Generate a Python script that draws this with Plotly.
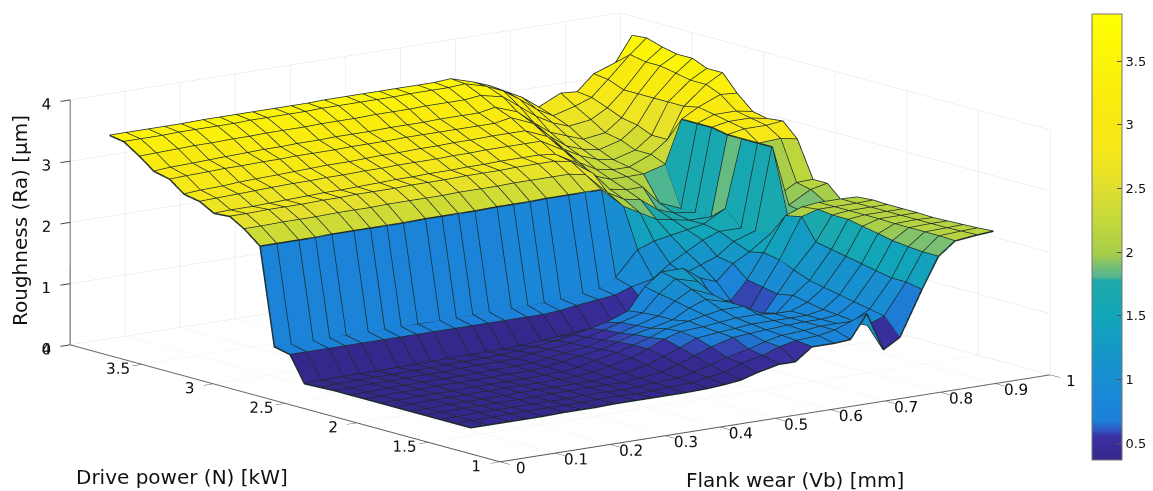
import plotly.graph_objects as go

flank_wear = [0.03,0.06,0.10,0.13,0.16,0.20,0.23,0.26,0.29,0.33,0.36,0.39,0.42,0.46,0.49,0.52,0.55,0.59,0.62,0.65,0.69,0.72,0.75,0.78,0.81,0.85,0.88,0.91,0.95,0.98]
drive_power = [1.32,1.43,1.53,1.64,1.74,1.85,1.95,2.06,2.16,2.27,2.37,2.48,2.58,2.69,2.79,2.90,3.00,3.11,3.21,3.32,3.42,3.53,3.63,3.74,3.84]

roughness = [
[.31,.31,.31,.31,.31,.32,.32,.32,.33,.33,.33,.33,.33,.34,.36,.39,.47,.55,.55,.75,.75,.77,1.15,.52,.68,1.40,1.90,2.11,2.15,2.17],
[.31,.31,.31,.32,.32,.32,.32,.32,.33,.33,.32,.33,.34,.36,.40,.45,.55,.62,.72,.78,.80,.85,.95,.85,.95,1.45,1.90,2.12,2.14,2.15],
[.31,.31,.32,.32,.32,.32,.32,.32,.33,.33,.32,.33,.35,.37,.42,.50,.58,.66,.74,.80,.82,.85,.85,.85,1.00,1.45,1.92,2.12,2.13,2.14],
[.31,.31,.32,.32,.32,.32,.32,.33,.33,.33,.33,.33,.36,.40,.48,.58,.68,.78,.80,.82,.84,.85,.85,.88,1.05,1.50,1.95,2.12,2.13,2.13],
[.31,.31,.32,.32,.32,.32,.33,.33,.33,.33,.33,.35,.38,.45,.55,.65,.76,.80,.82,.85,.85,.85,.85,.90,1.10,1.55,2.00,2.12,2.13,2.12],
[.31,.31,.32,.32,.32,.33,.33,.33,.33,.33,.34,.36,.42,.50,.60,.72,.80,.82,.85,.88,.88,.85,.85,.95,1.15,1.60,2.05,2.13,2.13,2.13],
[.31,.31,.32,.32,.32,.33,.33,.33,.33,.34,.35,.38,.45,.52,.60,.68,.78,.85,.90,.95,.95,.80,.75,1.00,1.20,1.65,2.10,2.13,2.13,2.13],
[.31,.31,.32,.32,.33,.33,.33,.33,.34,.34,.36,.40,.45,.50,.58,.66,.72,.80,.95,1.05,.95,.62,.60,.95,1.30,1.70,2.10,2.13,2.13,2.13],
[.31,.31,.32,.32,.33,.33,.33,.34,.34,.35,.36,.40,.44,.48,.55,.62,.70,.80,1.00,1.15,1.00,.60,.58,1.00,1.40,2.05,2.13,2.13,2.13,2.14],
[.31,.31,.32,.32,.33,.33,.33,.34,.35,.35,.36,.40,.43,.47,.52,.60,.68,.78,1.05,1.25,1.15,.80,.75,1.05,1.45,2.00,2.10,2.13,2.13,2.12],
[.30,.31,.31,.32,.32,.33,.33,.34,.35,.35,.36,.38,.41,.45,.50,.56,.62,.75,1.10,1.30,1.30,1.10,1.00,1.25,1.40,1.65,1.85,1.90,2.00,1.97],
[.29,.30,.30,.31,.31,.31,.32,.32,.33,.33,.34,.34,.35,.38,.40,.43,.45,.50,.55,.70,.95,1.10,1.20,1.30,1.50,1.62,2.95,1.95,2.15,2.21],
[.70,.70,.70,.70,.70,.70,.70,.70,.70,.70,.70,.70,.70,.70,.70,.72,.76,.80,.83,.92,1.00,1.20,1.35,1.50,1.60,1.60,2.95,2.00,2.20,2.21],
[.76,.76,.76,.76,.76,.76,.76,.76,.76,.76,.76,.77,.77,.78,.78,.78,.80,.83,.87,1.00,1.40,1.50,1.55,1.60,1.65,1.85,2.95,2.83,2.85,2.80],
[2.34,2.34,2.34,2.34,2.35,2.35,2.35,2.35,2.35,2.36,2.36,2.36,2.36,2.37,2.37,2.37,2.38,2.38,2.38,2.38,2.05,1.90,1.75,1.70,1.65,1.65,2.95,3.00,3.00,3.03],
[2.55,2.55,2.56,2.56,2.56,2.57,2.57,2.57,2.58,2.58,2.58,2.58,2.59,2.59,2.59,2.60,2.60,2.60,2.60,2.55,2.20,2.05,2.00,1.80,1.70,1.65,3.00,3.05,3.05,3.00],
[2.69,2.69,2.70,2.70,2.70,2.71,2.71,2.72,2.72,2.72,2.73,2.73,2.73,2.74,2.74,2.74,2.75,2.75,2.75,2.70,2.45,2.15,2.10,2.10,1.80,1.65,3.00,3.10,3.10,3.05],
[2.67,2.68,2.68,2.69,2.70,2.71,2.72,2.72,2.73,2.74,2.75,2.75,2.76,2.76,2.77,2.77,2.78,2.78,2.78,2.75,2.55,2.30,2.20,2.20,2.20,2.30,3.00,3.15,3.30,3.28],
[2.80,2.81,2.82,2.83,2.84,2.85,2.85,2.86,2.86,2.87,2.87,2.88,2.88,2.88,2.89,2.89,2.90,2.90,2.90,2.90,2.70,2.45,2.30,2.25,2.25,2.40,2.60,3.10,3.40,3.55],
[2.85,2.87,2.88,2.90,2.91,2.92,2.93,2.94,2.95,2.95,2.96,2.97,2.97,2.98,2.98,2.99,2.99,3.00,3.00,3.00,2.85,2.60,2.45,2.35,2.30,2.40,2.60,3.10,3.40,3.55],
[3.03,3.04,3.05,3.06,3.06,3.07,3.07,3.08,3.08,3.08,3.09,3.09,3.09,3.10,3.10,3.10,3.10,3.10,3.10,3.15,3.00,2.75,2.55,2.45,2.40,2.50,2.70,3.10,3.45,3.65],
[3.09,3.11,3.12,3.13,3.14,3.15,3.16,3.16,3.17,3.17,3.18,3.18,3.18,3.19,3.19,3.19,3.20,3.20,3.20,3.25,3.12,2.90,2.70,2.60,2.50,2.55,2.75,3.10,3.50,3.65],
[3.27,3.28,3.29,3.30,3.30,3.31,3.31,3.32,3.32,3.32,3.33,3.33,3.33,3.34,3.34,3.34,3.35,3.35,3.35,3.38,3.30,3.10,2.90,2.75,2.65,2.70,2.85,3.10,3.50,3.70],
[3.44,3.44,3.44,3.45,3.45,3.45,3.45,3.46,3.46,3.46,3.46,3.47,3.47,3.47,3.47,3.47,3.48,3.48,3.48,3.50,3.40,3.28,3.10,2.90,2.75,2.85,2.95,3.20,3.55,3.78],
[3.48,3.48,3.48,3.48,3.48,3.49,3.49,3.49,3.49,3.49,3.49,3.49,3.50,3.50,3.50,3.50,3.50,3.50,3.50,3.52,3.41,3.31,3.17,3.03,2.83,3.00,2.98,3.23,3.36,3.76],
]

scale_values = [0.367,0.55,0.60,0.68,0.85,1.20,1.50,1.78,1.80,1.90,1.98,2.30,2.55,2.80,3.10,3.87]
scale_colors = ["#35288c","#3a30a0","#2f56c0","#1c80d8","#1a88d8","#1596c8","#12a6b8","#1fa9a8","#4fb592","#7cc070","#a6cd4a","#c9da38","#e4e02c","#f6e818","#f9ea10","#ffff00"]
tick_z = [0,1,2,3,4]
tick_bar = [0.5,1,1.5,2,2.5,3,3.5]

cmin, cmax = scale_values[0], scale_values[-1]
colorscale = [[(v-cmin)/(cmax-cmin), c] for v, c in zip(scale_values, scale_colors)]
nx, ny = len(flank_wear), len(drive_power)

vx, vy, vz, ti, tj, tk, cell = [], [], [], [], [], [], []
for r in range(ny):
    for c in range(nx):
        vx.append(flank_wear[c]); vy.append(drive_power[r]); vz.append(roughness[r][c])
for r in range(ny-1):
    for c in range(nx-1):
        a = r*nx+c; b = a+1; d = a+nx; e = d+1
        ti += [a, a]; tj += [b, e]; tk += [e, d]
        cell += [roughness[r][c]]*2

fig = go.Figure()
fig.add_trace(go.Mesh3d(x=vx, y=vy, z=vz, i=ti, j=tj, k=tk, intensity=cell, intensitymode="cell",
    colorscale=colorscale, cmin=cmin, cmax=cmax, flatshading=True, hoverinfo="skip",
    lighting=dict(ambient=1, diffuse=0, specular=0, fresnel=0),
    colorbar=dict(x=1084/1153, xanchor="left", thickness=30, thicknessmode="pixels",
        y=1-229/491, yanchor="middle", len=446/491, lenmode="fraction", outlinecolor="#777", outlinewidth=1,
        tickvals=tick_bar, ticks="inside", ticklen=5, tickcolor="#555", xpad=0, ypad=0,
        tickfont=dict(family="DejaVu Sans", size=13, color="#111"))))

lx, ly, lz = [], [], []
for r in range(ny):
    for c in range(nx):
        lx.append(flank_wear[c]); ly.append(drive_power[r]); lz.append(roughness[r][c])
    lx.append(None); ly.append(None); lz.append(None)
for c in range(nx):
    for r in range(ny):
        lx.append(flank_wear[c]); ly.append(drive_power[r]); lz.append(roughness[r][c])
    lx.append(None); ly.append(None); lz.append(None)
fig.add_trace(go.Scatter3d(x=lx, y=ly, z=lz, mode="lines", line=dict(color="#1c2a2a", width=3),
                           hoverinfo="skip", showlegend=False))

axis = dict(showbackground=False, showgrid=True, gridcolor="#e2e2e2", gridwidth=1, zeroline=False,
            showline=True, linecolor="#555", linewidth=2, ticks="outside", ticklen=6, tickcolor="#444", tickwidth=2,
            showspikes=False, title=dict(text=""), tickangle=0,
            tickfont=dict(family="DejaVu Sans", size=13.5, color="#111"))
dx, dy, dz = 0.0294, -0.0224, -0.037
scene = dict(
    domain=dict(x=[0, 0.973], y=[0.03, 1.0]),
    xaxis=dict(axis, range=[0,1], dtick=0.1, tick0=0, ticklen=12),
    yaxis=dict(axis, range=[1,4], dtick=0.5, tick0=1, ticklen=16),
    zaxis=dict(axis, range=[0,4], tickvals=tick_z, ticklen=2),
    aspectmode="manual", aspectratio=dict(x=2.907, y=2.98, z=1.052),
    camera=dict(projection=dict(type="orthographic"), center=dict(x=dx,y=dy,z=dz),
                up=dict(x=0,y=0,z=1), eye=dict(x=-0.593*4+dx, y=-0.778*4+dy, z=0.2074*4+dz)),
)
font = dict(family="DejaVu Sans", size=20, color="#111")
title_common = dict(xref="paper", yref="paper", showarrow=False, font=font, xanchor="center", yanchor="middle")
fig.update_layout(width=1153, height=491, margin=dict(l=0,r=0,t=0,b=0), paper_bgcolor="white",
    scene=scene, showlegend=False,
    annotations=[
        dict(text="Drive power (N) [kW]", x=174/1153, y=1-469/491, **title_common),
        dict(text="Flank wear (Vb) [mm]", x=787/1153, y=1-472/491, **title_common),
        dict(text="Roughness (Ra) [µm]", x=12/1153, y=1-213/491, textangle=-90, **title_common),
    ])
fig.write_html("out.html")
